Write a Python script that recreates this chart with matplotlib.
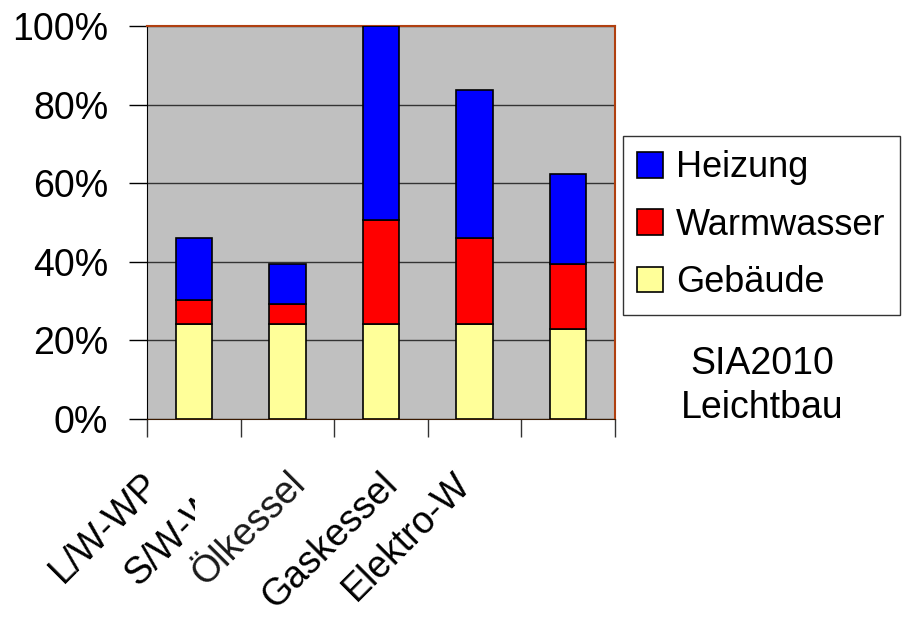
import matplotlib.pyplot as plt
import numpy as np
from matplotlib.patches import Rectangle

plt.rcParams['font.family'] = ['Liberation Sans', 'DejaVu Sans']

# Daten (Anteile in %)
kategorien = ["L/W-WP", "S/W-WP", "Ölkessel", "Gaskessel", "Elektro-W"]
gebaeude = [24.1, 24.1, 24.1, 24.1, 22.8]
warmwasser = [6.2, 5.2, 26.5, 22.0, 16.6]
heizung = [15.8, 10.1, 49.4, 37.5, 23.0]
y_ticks = [0, 20, 40, 60, 80, 100]

x = np.arange(len(kategorien))
fig = plt.figure(figsize=(9.2, 6.17), dpi=100)
ax = fig.add_axes([0.1598, 0.3209, 0.5087, 0.637])
ax.set_facecolor('#c0c0c0')

breite = 0.39
b1 = ax.bar(x, gebaeude, breite, color='#ffff99', edgecolor='black', lw=1.2, label='Gebäude', zorder=3)
unten = np.array(gebaeude)
b2 = ax.bar(x, warmwasser, breite, bottom=unten, color='#ff0000', edgecolor='black', lw=1.2, label='Warmwasser', zorder=3)
unten = unten + np.array(warmwasser)
b3 = ax.bar(x, heizung, breite, bottom=unten, color='#0000ff', edgecolor='black', lw=1.2, label='Heizung', zorder=3)

ax.set_xlim(-0.5, len(kategorien) - 0.5)
ax.set_ylim(0, 100)
ax.set_yticks(y_ticks)
ax.set_yticklabels([f"{t}%" for t in y_ticks], fontsize=27)
ax.yaxis.grid(True, color='#333333', lw=1.0, zorder=1)
ax.tick_params(axis='y', length=13, width=1, pad=15)

# x-Ticks an den Kategoriegrenzen
ax.set_xticks(np.arange(-0.5, len(kategorien), 1.0))
ax.set_xticklabels([])
ax.tick_params(axis='x', length=13, width=1, color='#333333')

for s in ['top', 'right']:
    ax.spines[s].set_color('#b04010')
    ax.spines[s].set_linewidth(1.5)
ax.spines['left'].set_color('black')
ax.spines['bottom'].set_color('#3a1a00')

# weisser Kasten hinter "Ölkessel" (verdeckt einen Teil von S/W-WP)
rahmen = Rectangle((195 / 920, 1 - 600 / 617), 120 / 920, 140 / 617,
                   transform=fig.transFigure, facecolor='white', edgecolor='none', zorder=5)
fig.add_artist(rahmen)

# Kategorienbeschriftungen (45 Grad)
label_pos = [-0.43, 0.41, 1.13, 2.12, 2.90]
for name, pos in zip(kategorien, label_pos):
    z = 4 if name == "S/W-WP" else 6
    fig.text(pos, -0.152, name, transform=ax.get_xaxis_transform(), rotation=45,
             rotation_mode='anchor', ha='right', va='center', fontsize=27,
             color='#1a1a1a' if name == "Ölkessel" else 'black', zorder=z)

leg = fig.legend([b3, b2, b1], ['Heizung', 'Warmwasser', 'Gebäude'],
                 loc='upper left', bbox_to_anchor=(623 / 920, 1 - 136 / 617),
                 fontsize=26, frameon=True, fancybox=False, edgecolor='black',
                 handlelength=0.72, handleheight=0.72, handletextpad=0.35,
                 labelspacing=0.62, borderpad=0.4, borderaxespad=0)
leg.get_frame().set_linewidth(1.0)

fig.text(762 / 920, 1 - 386 / 617, "SIA2010\nLeichtbau", ha='center', va='center',
         fontsize=27, linespacing=1.25)

fig.savefig("out.png", dpi=100)
